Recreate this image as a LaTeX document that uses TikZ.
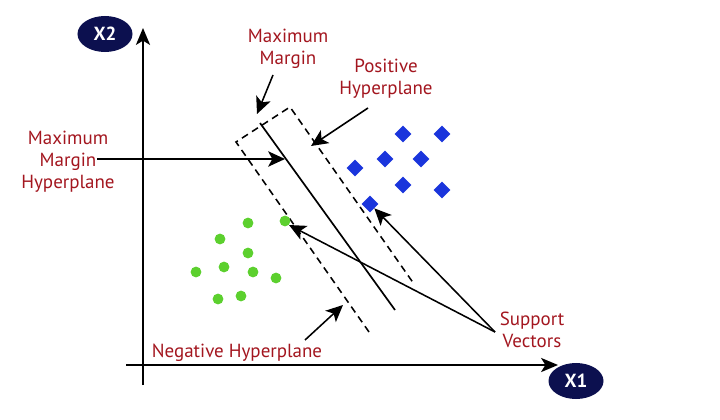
\documentclass[tikz,border=0pt]{standalone}
\usepackage{fontspec}
\setmainfont{PT Sans}
\usetikzlibrary{arrows.meta,shapes.geometric}
\definecolor{labelred}{HTML}{A3161F}
\definecolor{axisnavy}{HTML}{0C104F}
\definecolor{posblue}{HTML}{1A35DC}
\definecolor{neggreen}{HTML}{5CD02E}
\begin{document}
\begin{tikzpicture}[
  x=0.025cm, y=-0.025cm,
  axisname/.style={ellipse, fill=axisnavy, text=white, inner sep=0pt, minimum width=1.375cm, minimum height=0.9cm, font=\bfseries\fontsize{13.5}{15}\selectfont},
  lbl/.style={text=labelred, align=center, font=\fontsize{13.5}{15.8}\selectfont},
  posdot/.style={diamond, fill=posblue, inner sep=0pt, minimum size=0.42cm},
  negdot/.style={circle, fill=neggreen, inner sep=0pt, minimum size=0.27cm},
  axis/.style={line width=1.5pt, -{Stealth[length=12pt,width=10pt,inset=3pt]}},
  pointer/.style={line width=1.1pt, -{Stealth[length=12pt,width=11pt,inset=3pt]}},
  plane/.style={line width=1.2pt},
  marginline/.style={line width=1.1pt, dash pattern=on 5pt off 3.5pt}
]
\useasboundingbox (0,0) rectangle (720,419);

% axes
\coordinate (yfoot) at (143,385);
\coordinate (ytop) at (143,28);
\coordinate (xfoot) at (126,365);
\coordinate (xtop) at (558,365);
\draw[axis] (yfoot) -- (ytop);
\draw[axis] (xfoot) -- (xtop);
\node[axisname] (x2) at (105,34) {X2};
\node[axisname] (x1) at (576,381) {X1};

% hyperplanes
\coordinate (hptop) at (260,123);
\coordinate (hpbot) at (395,310);
\coordinate (negtop) at (236,142);
\coordinate (negbot) at (369,332);
\coordinate (postop) at (290,107);
\coordinate (posbot) at (414,284);
\draw[plane] (hptop) -- (hpbot);
\draw[marginline] (negbot) -- (negtop) -- (postop) -- (posbot);

% positive class
\node[posdot] (b1) at (403,134) {};
\node[posdot] (b2) at (442,134) {};
\node[posdot] (b3) at (355,168) {};
\node[posdot] (b4) at (385,159) {};
\node[posdot] (b5) at (421,159) {};
\node[posdot] (b6) at (403,185) {};
\node[posdot] (b7) at (442,190) {};
\node[posdot] (b8) at (370,204) {};

% negative class
\node[negdot] (g1) at (248,223) {};
\node[negdot] (g2) at (285,221) {};
\node[negdot] (g3) at (220,239) {};
\node[negdot] (g4) at (248,253) {};
\node[negdot] (g5) at (224,267) {};
\node[negdot] (g6) at (196,272) {};
\node[negdot] (g7) at (253,272) {};
\node[negdot] (g8) at (276,278) {};
\node[negdot] (g9) at (241,296) {};
\node[negdot] (g10) at (218,299) {};

% labels
\node[lbl] (mm) at (288,49) {Maximum\\Margin};
\node[lbl] (ph) at (386,79) {Positive\\Hyperplane};
\node[lbl] (mmh) at (68,162) {Maximum\\Margin\\Hyperplane};
\node[lbl] (sv) at (532,330) {Support\\Vectors};
\node[lbl] (nh) at (237,353) {Negative Hyperplane};

% pointers
\coordinate (mmtail) at (273,75);
\coordinate (mmtip) at (257,114);
\coordinate (phtail) at (368,108);
\coordinate (phtip) at (311,146);
\coordinate (mmhtail) at (97,159);
\coordinate (mmhtip) at (285,159);
\coordinate (svtail) at (495,332);
\coordinate (nhtail) at (305,340);
\coordinate (nhtip) at (343,305);
\draw[pointer] (mmtail) -- (mmtip);
\draw[pointer] (phtail) -- (phtip);
\draw[pointer] (mmhtail) -- (mmhtip);
\draw[pointer] (svtail) -- (g2.south east);
\draw[pointer] (svtail) -- (b8.south east);
\draw[pointer] (nhtail) -- (nhtip);
\end{tikzpicture}
\end{document}
